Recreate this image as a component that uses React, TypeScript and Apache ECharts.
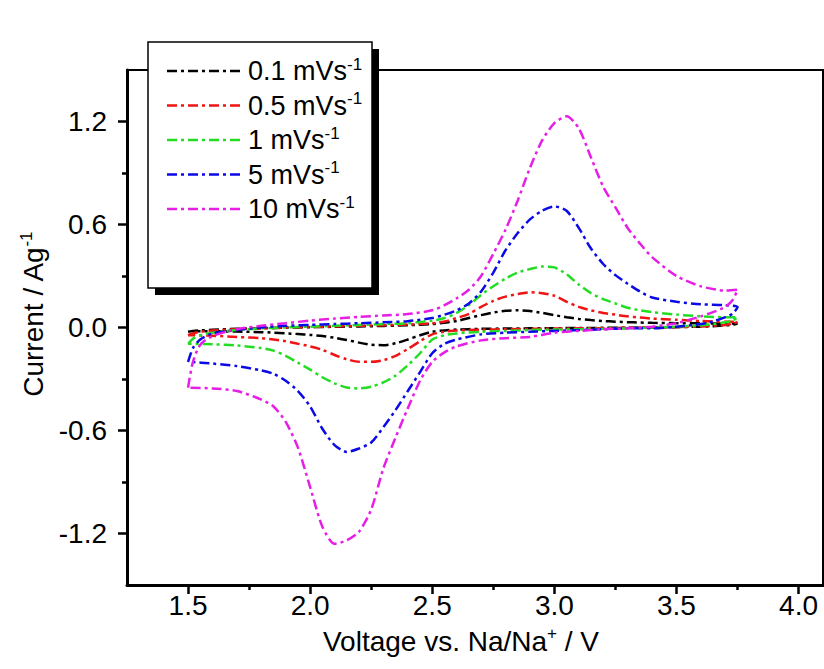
import React, { useEffect, useRef } from 'react';
import * as echarts from 'echarts';

const FONT = '"Liberation Sans", Arial, sans-serif';

const seriesNames = ['0.1 mVs', '0.5 mVs', '1 mVs', '5 mVs', '10 mVs'];
const seriesColors = ['#000000', '#f01414', '#22dd22', '#0a0ae6', '#e61ee6'];

const xMajorTicks = [1.5, 2.0, 2.5, 3.0, 3.5, 4.0];
const xMinorTicks = [1.75, 2.25, 2.75, 3.25, 3.75];
const yMajorTicks = [-1.2, -0.6, 0, 0.6, 1.2];
const yMinorTicks = [-0.9, -0.3, 0.3, 0.9];

// anodic (forward) sweep voltages
const vForward = [1.5, 1.52, 1.55, 1.6, 1.7, 1.8, 1.9, 2.0, 2.1, 2.2, 2.3, 2.4, 2.5, 2.55, 2.6, 2.65, 2.7, 2.75, 2.8, 2.85, 2.9, 2.95, 3.0, 3.05, 3.1, 3.15, 3.2, 3.25, 3.3, 3.35, 3.4, 3.5, 3.6, 3.7, 3.75];
// cathodic (reverse) sweep voltages
const vReverse = [3.75, 3.73, 3.7, 3.65, 3.6, 3.5, 3.4, 3.3, 3.2, 3.1, 3.0, 2.9, 2.8, 2.7, 2.6, 2.55, 2.5, 2.45, 2.4, 2.35, 2.3, 2.25, 2.2, 2.15, 2.1, 2.05, 2.0, 1.95, 1.9, 1.85, 1.8, 1.7, 1.6, 1.5];

const i01Fwd = [-0.025, -0.02, -0.017, -0.013, -0.008, -0.004, -0.001, 0.002, 0.004, 0.006, 0.009, 0.013, 0.02, 0.028, 0.038, 0.055, 0.072, 0.087, 0.097, 0.1, 0.096, 0.085, 0.072, 0.06, 0.05, 0.043, 0.038, 0.034, 0.031, 0.029, 0.027, 0.025, 0.024, 0.023, 0.023];
const i01Rev = [0.023, 0.016, 0.012, 0.008, 0.005, 0.002, 0.0, -0.001, -0.002, -0.003, -0.004, -0.005, -0.006, -0.008, -0.012, -0.017, -0.025, -0.045, -0.07, -0.092, -0.103, -0.1, -0.088, -0.073, -0.06, -0.05, -0.043, -0.038, -0.034, -0.03, -0.027, -0.024, -0.022, -0.022];

const i05Fwd = [-0.045, -0.035, -0.025, -0.018, -0.01, -0.005, 0.0, 0.003, 0.006, 0.01, 0.013, 0.017, 0.025, 0.035, 0.055, 0.08, 0.12, 0.155, 0.18, 0.195, 0.205, 0.2, 0.185, 0.15, 0.12, 0.1, 0.085, 0.075, 0.065, 0.058, 0.052, 0.045, 0.038, 0.033, 0.033];
const i05Rev = [0.033, 0.022, 0.015, 0.01, 0.006, 0.002, 0.0, -0.002, -0.004, -0.005, -0.006, -0.008, -0.01, -0.013, -0.018, -0.025, -0.04, -0.08, -0.125, -0.165, -0.19, -0.2, -0.2, -0.185, -0.16, -0.13, -0.11, -0.095, -0.08, -0.07, -0.062, -0.055, -0.048, -0.045];

const i1Fwd = [-0.095, -0.065, -0.045, -0.03, -0.015, -0.005, 0.0, 0.005, 0.01, 0.015, 0.02, 0.025, 0.04, 0.055, 0.085, 0.13, 0.19, 0.24, 0.285, 0.32, 0.34, 0.355, 0.35, 0.31, 0.25, 0.2, 0.165, 0.14, 0.115, 0.1, 0.09, 0.075, 0.065, 0.06, 0.06];
const i1Rev = [0.06, 0.04, 0.03, 0.02, 0.012, 0.005, 0.0, -0.005, -0.008, -0.01, -0.012, -0.015, -0.02, -0.025, -0.035, -0.045, -0.07, -0.15, -0.22, -0.28, -0.32, -0.345, -0.355, -0.35, -0.325, -0.29, -0.245, -0.205, -0.165, -0.135, -0.12, -0.105, -0.098, -0.095];

const i5Fwd = [-0.2, -0.12, -0.07, -0.035, -0.015, 0.0, 0.01, 0.015, 0.02, 0.025, 0.03, 0.037, 0.055, 0.075, 0.1, 0.14, 0.21, 0.32, 0.45, 0.55, 0.63, 0.68, 0.705, 0.68, 0.58, 0.46, 0.37, 0.305, 0.255, 0.21, 0.175, 0.15, 0.135, 0.13, 0.12];
const i5Rev = [0.12, 0.08, 0.06, 0.035, 0.02, 0.005, -0.005, -0.005, -0.01, -0.015, -0.02, -0.025, -0.03, -0.04, -0.07, -0.095, -0.15, -0.26, -0.37, -0.48, -0.58, -0.67, -0.705, -0.725, -0.685, -0.59, -0.46, -0.37, -0.31, -0.27, -0.25, -0.225, -0.21, -0.2];

const i10Fwd = [-0.35, -0.2, -0.1, -0.05, -0.01, 0.01, 0.025, 0.04, 0.052, 0.062, 0.07, 0.078, 0.1, 0.13, 0.17, 0.22, 0.3, 0.43, 0.57, 0.74, 0.93, 1.09, 1.19, 1.23, 1.16, 0.99, 0.82, 0.7, 0.58, 0.49, 0.41, 0.3, 0.24, 0.215, 0.22];
const i10Rev = [0.22, 0.16, 0.12, 0.09, 0.065, 0.025, 0.005, -0.005, -0.01, -0.02, -0.03, -0.055, -0.062, -0.075, -0.11, -0.145, -0.2, -0.31, -0.47, -0.64, -0.82, -1.06, -1.19, -1.24, -1.26, -1.16, -0.93, -0.7, -0.55, -0.46, -0.42, -0.37, -0.355, -0.35];

const forwardSets = [i01Fwd, i05Fwd, i1Fwd, i5Fwd, i10Fwd];
const reverseSets = [i01Rev, i05Rev, i1Rev, i5Rev, i10Rev];

const DASH = [10, 4, 3, 4];

function buildOption() {
  const series = seriesNames.map((name, k) => ({
    name,
    type: 'line',
    xAxisIndex: 0,
    yAxisIndex: 0,
    showSymbol: false,
    smooth: 0.25,
    lineStyle: { color: seriesColors[k], width: 2.5, type: DASH },
    itemStyle: { color: seriesColors[k] },
    data: vForward
      .map((v, j) => [v, forwardSets[k][j]])
      .concat(vReverse.map((v, j) => [v, reverseSets[k][j]])),
  }));

  const rowY = [71, 105.5, 140, 174.5, 209];
  const legendItems: any[] = [
    {
      type: 'rect',
      z: 100,
      shape: { x: 155, y: 49, width: 224, height: 246 },
      style: { fill: '#000' },
    },
    {
      type: 'rect',
      z: 101,
      shape: { x: 148, y: 42, width: 224, height: 246 },
      style: { fill: '#fff', stroke: '#000', lineWidth: 1.5 },
    },
  ];
  seriesNames.forEach((name, k) => {
    legendItems.push({
      type: 'line',
      z: 102,
      shape: { x1: 167, y1: rowY[k], x2: 243, y2: rowY[k] },
      style: { stroke: seriesColors[k], lineWidth: 2.5, lineDash: DASH },
    });
    legendItems.push({
      type: 'text',
      z: 102,
      x: 248,
      y: rowY[k],
      style: {
        text: `{a|${name}}{b|-1}`,
        verticalAlign: 'middle',
        align: 'left',
        rich: {
          a: { fontSize: 27, fontFamily: FONT, fill: '#000', lineHeight: 31 },
          b: { fontSize: 17, fontFamily: FONT, fill: '#000', lineHeight: 17, verticalAlign: 'top' },
        },
      },
    });
  });

  const richAxis = {
    a: { fontSize: 28, fontFamily: FONT, color: '#000', lineHeight: 32 },
    b: { fontSize: 17, fontFamily: FONT, color: '#000', lineHeight: 17, verticalAlign: 'top' },
  };

  return {
    animation: false,
    backgroundColor: '#fff',
    grid: {
      left: 127,
      top: 70,
      width: 696,
      height: 515,
      show: true,
      borderColor: '#000',
      borderWidth: 2,
      backgroundColor: 'transparent',
    },
    xAxis: [
      {
        type: 'value',
        min: 1.25,
        max: 4.1,
        position: 'bottom',
        name: '{a|Voltage vs. Na/Na}{b|+}{a| / V}',
        nameLocation: 'middle',
        nameGap: 40,
        nameTextStyle: { rich: richAxis, padding: [0, 28, 0, 0] },
        axisLine: { show: true, onZero: false, lineStyle: { color: '#000', width: 3 } },
        axisTick: { show: true, inside: false, length: 9, customValues: xMajorTicks, lineStyle: { color: '#000', width: 2.5 } },
        axisLabel: {
          show: true,
          customValues: xMajorTicks,
          margin: 6,
          fontSize: 28,
          fontFamily: FONT,
          color: '#000',
          formatter: (v: number) => v.toFixed(1),
        },
        splitLine: { show: false },
      },
      {
        type: 'value',
        min: 1.25,
        max: 4.1,
        position: 'bottom',
        axisLine: { show: false, onZero: false },
        axisTick: { show: true, inside: false, length: 5, customValues: xMinorTicks, lineStyle: { color: '#000', width: 2.5 } },
        axisLabel: { show: false },
        splitLine: { show: false },
      },
    ],
    yAxis: [
      {
        type: 'value',
        min: -1.5,
        max: 1.5,
        position: 'left',
        name: '{a|Current / Ag}{b|-1}',
        nameLocation: 'middle',
        nameGap: 72,
        nameTextStyle: { rich: richAxis, padding: [0, 0, 0, 26] },
        axisLine: { show: true, onZero: false, lineStyle: { color: '#000', width: 3 } },
        axisTick: { show: true, inside: false, length: 9, customValues: yMajorTicks, lineStyle: { color: '#000', width: 2.5 } },
        axisLabel: {
          show: true,
          customValues: yMajorTicks,
          margin: 20,
          fontSize: 28,
          fontFamily: FONT,
          color: '#000',
          formatter: (v: number) => v.toFixed(1),
        },
        splitLine: { show: false },
      },
      {
        type: 'value',
        min: -1.5,
        max: 1.5,
        position: 'left',
        axisLine: { show: false, onZero: false },
        axisTick: { show: true, inside: false, length: 5, customValues: yMinorTicks, lineStyle: { color: '#000', width: 2.5 } },
        axisLabel: { show: false },
        splitLine: { show: false },
      },
    ],
    graphic: { elements: legendItems },
    series,
  };
}

export default function App() {
  const ref = useRef<HTMLDivElement>(null);
  useEffect(() => {
    if (!ref.current) return;
    const chart = echarts.init(ref.current, undefined, { renderer: 'svg' });
    chart.setOption(buildOption() as any);
    return () => chart.dispose();
  }, []);
  return (
    <div
      ref={ref}
      style={{ position: 'fixed', left: 0, top: 0, width: 824, height: 669, background: '#fff' }}
    />
  );
}
